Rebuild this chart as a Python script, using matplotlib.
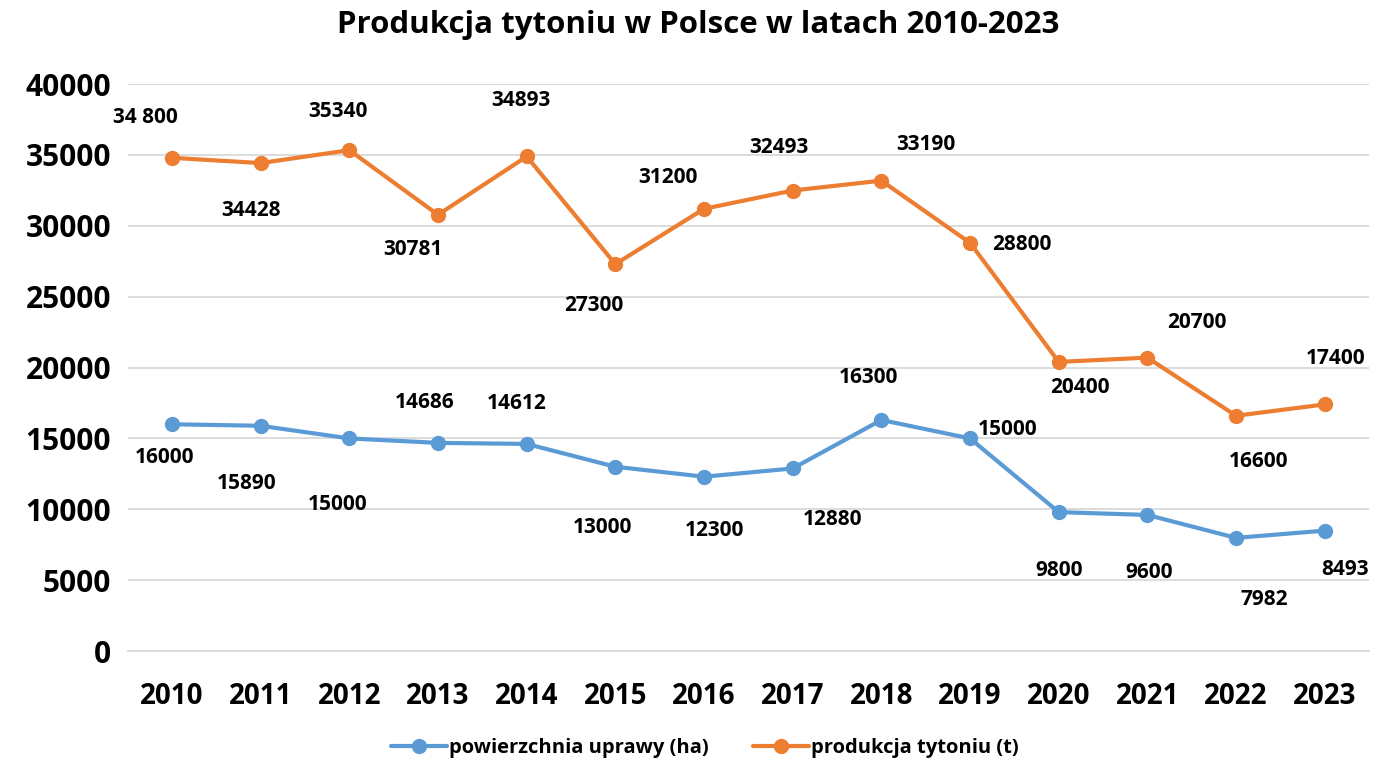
import matplotlib
matplotlib.use("Agg")
import matplotlib.pyplot as plt

years = [2010, 2011, 2012, 2013, 2014, 2015, 2016, 2017, 2018, 2019, 2020, 2021, 2022, 2023]
area_ha = [16000, 15890, 15000, 14686, 14612, 13000, 12300, 12880, 16300, 15000, 9800, 9600, 7982, 8493]
prod_t = [34800, 34428, 35340, 30781, 34893, 27300, 31200, 32493, 33190, 28800, 20400, 20700, 16600, 17400]
prod_labels = ["34 800", "34428", "35340", "30781", "34893", "27300", "31200", "32493",
               "33190", "28800", "20400", "20700", "16600", "17400"]
area_labels = [str(v) for v in area_ha]
yticks = [0, 5000, 10000, 15000, 20000, 25000, 30000, 35000, 40000]

# label offsets in pixels (dx, dy with dy positive downward as in the image)
prod_off = [(-27, -40), (-10, 47), (-11, -39), (-25, 35), (-6, -56), (-22, 41), (-36, -31),
            (-14, -43), (45, -36), (52, 2), (21, 26), (49, -35), (22, 46), (11, -46)]
area_off = [(-7, 33), (-14, 58), (-12, 66), (-13, -40), (-10, -40), (-13, 61), (10, 54),
            (40, 51), (-13, -42), (38, -9), (0, 58), (2, 58), (28, 62), (20, 39)]

BLUE = "#5B9BD5"
ORANGE = "#ED7D31"
FONT = ["Open Sans", "DejaVu Sans"]
plt.rcParams["font.family"] = FONT
plt.rcParams["font.weight"] = "bold"

fig = plt.figure(figsize=(13.74, 7.64), dpi=100)
ax = fig.add_axes([0.0929, 0.1479, 0.9035, 0.742])

x = list(range(len(years)))
ax.plot(x, area_ha, color=BLUE, lw=3, marker="o", ms=10, label="powierzchnia uprawy (ha)",
        solid_capstyle="round", zorder=3)
ax.plot(x, prod_t, color=ORANGE, lw=3, marker="o", ms=10, label="produkcja tytoniu (t)",
        solid_capstyle="round", zorder=3)

for xi, v, lab, (dx, dy) in zip(x, prod_t, prod_labels, prod_off):
    ax.annotate(lab, (xi, v), xytext=(dx, -dy), textcoords="offset pixels",
                ha="center", va="center", fontsize=15, fontweight="bold", color="black")
for xi, v, lab, (dx, dy) in zip(x, area_ha, area_labels, area_off):
    ax.annotate(lab, (xi, v), xytext=(dx, -dy), textcoords="offset pixels",
                ha="center", va="center", fontsize=15, fontweight="bold", color="black")

ax.set_xlim(-0.5, len(years) - 0.5)
ax.set_ylim(0, 40000)
ax.set_yticks(yticks)
ax.set_yticklabels([str(t) for t in yticks], fontsize=21.5, fontweight="bold")
ax.set_xticks(x)
ax.set_xticklabels([str(y) for y in years], fontsize=20, fontweight="bold")
ax.tick_params(axis="both", length=0)
ax.tick_params(axis="y", pad=12)
ax.tick_params(axis="x", pad=22)
ax.grid(axis="y", color="#D9D9D9", lw=1.3)
ax.set_axisbelow(True)
for s in ["top", "right", "left"]:
    ax.spines[s].set_visible(False)
ax.spines["bottom"].set_color("#D9D9D9")
ax.spines["bottom"].set_linewidth(1.3)

fig.text(0.508, 0.967, "Produkcja tytoniu w Polsce w latach 2010-2023", ha="center", va="center",
         fontsize=22.5, fontweight="bold")

leg = fig.legend(loc="center", bbox_to_anchor=(0.513, 0.021), ncol=2, frameon=False,
                 prop={"size": 14.5, "weight": "bold"}, handlelength=2.8, columnspacing=2.2,
                 handletextpad=0.1)

fig.savefig("out.png", dpi=100)
